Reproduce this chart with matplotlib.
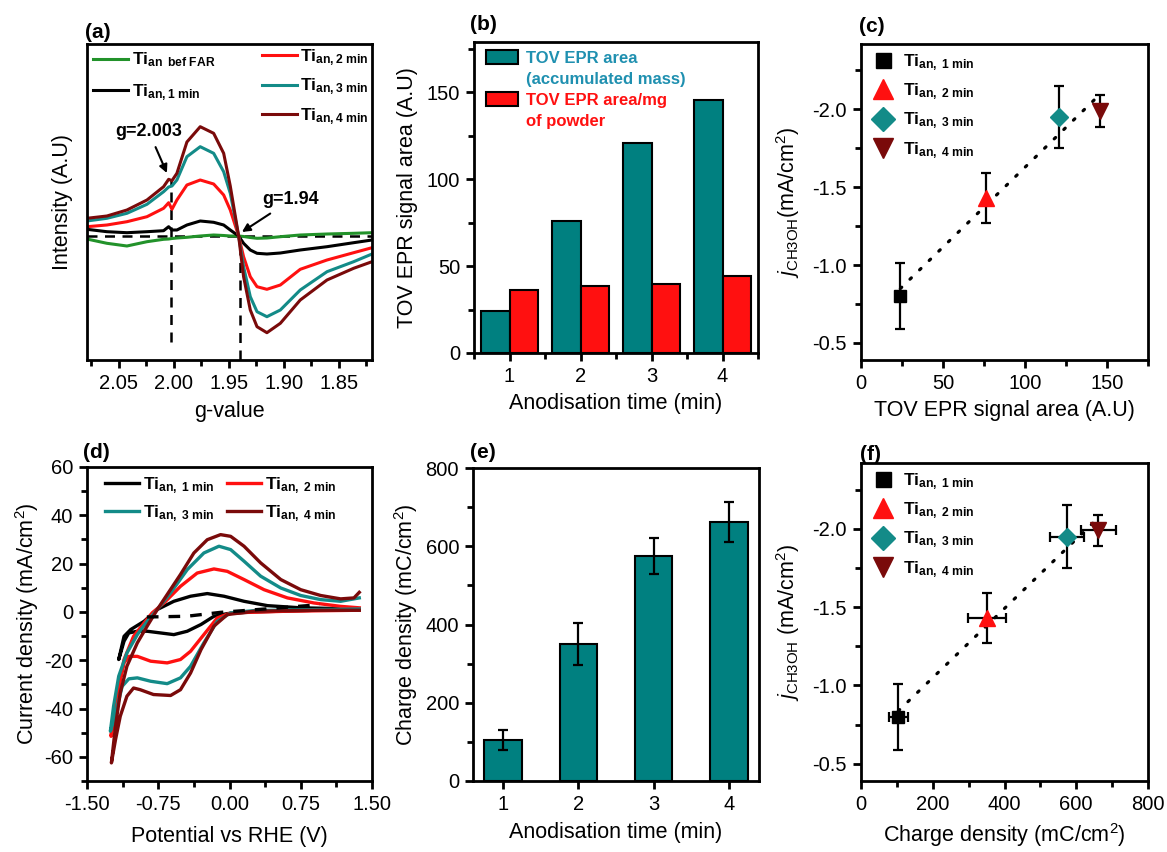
import numpy as np
import matplotlib
matplotlib.use('Agg')
import matplotlib.pyplot as plt
from matplotlib.ticker import MultipleLocator, FormatStrFormatter
from matplotlib.patches import Patch

plt.rcParams.update({
    'font.family': ['Liberation Sans', 'DejaVu Sans'],
    'mathtext.fontset': 'custom',
    'mathtext.rm': 'Liberation Sans',
    'mathtext.bf': 'Liberation Sans:bold',
    'mathtext.it': 'Liberation Sans:italic',
    'mathtext.sf': 'Liberation Sans',
    'axes.unicode_minus': False,
})

# ---------------- data ----------------
# (a) EPR spectra (intensity in arbitrary units)
g_value = [2.0791, 2.0609, 2.0427, 2.0245, 2.0094, 2.0048, 2.0018, 1.9973, 1.9882,
           1.9761, 1.9639, 1.9548, 1.9488, 1.9412, 1.9367, 1.9306, 1.9245, 1.9155,
           1.9033, 1.8852, 1.8609, 1.8367, 1.8200]
epr_bef = [-3, -7.3, -10, -5.7, -3.3, -3, -2.5, -2, -1.3, 0, 1, 0.5, 0, 0, -0.5, -1.5,
           -2.3, -2, -0.7, 1, 2, 2.7, 3.3]
epr_1min = [6.7, 4.3, 3.3, 4.3, 5.3, 9.3, 6, 6, 11, 15, 13.7, 11, 6, 0, -7.3, -14,
            -17.3, -18, -17, -14, -10.7, -6.7, -4]
epr_2min = [9.3, 11, 14.3, 19.3, 27.7, 33.3, 26.7, 36, 51, 56, 52, 41, 26, 0, -20.7,
            -40.7, -50.7, -53.3, -49, -33.3, -24, -16.7, -11.7]
epr_3min = [15, 17.7, 22.7, 31.7, 44.3, 49, 50, 56, 79.3, 89.3, 82.7, 64.3, 42.7, 0,
            -30.7, -60.7, -75.7, -80.7, -74, -54, -35.7, -25.7, -18]
epr_4min = [17.7, 20, 26, 36, 49.3, 56.7, 55.3, 62.7, 94, 109.3, 102.7, 82.7, 50, 0,
            -40.7, -74, -90.7, -96.7, -87.3, -64, -44, -32.3, -25.7]
g_marks = [2.003, 1.94]

# (b) EPR signal areas
anod_time = [1, 2, 3, 4]
tov_area = [24, 76, 121, 145.6]
tov_area_mg = [36.2, 38.3, 39.6, 44.4]

# (c)/(f) methanol current density
j_ch3oh = [-0.80, -1.43, -1.95, -1.99]
j_err = [0.21, 0.16, 0.20, 0.10]

# (d) cyclic voltammograms: cathodic (lower) then anodic (upper) branches
cv1_low_v = [1.366, 0.258, -0.023, -0.164, -0.30, -0.445, -0.586, -0.726, -0.867, -0.97, -1.06, -1.11, -1.166]
cv1_low_i = [1.2, 0, -0.7, -1.8, -5.2, -8, -9.4, -8.7, -8, -8, -8.7, -12.1, -19.7]
cv1_up_v = [-1.166, -1.11, -1.04, -0.90, -0.76, -0.586, -0.41, -0.234, -0.058, 0.153, 0.40, 0.75, 1.366]
cv1_up_i = [-19.7, -10.1, -7.3, -3.9, 1.0, 4.4, 6.5, 7.6, 6.5, 4.4, 2.6, 1.7, 1.2]

cv2_low_v = [1.366, 0.61, 0.012, -0.129, -0.27, -0.41, -0.516, -0.656, -0.83, -0.97, -1.06, -1.11, -1.166, -1.22, -1.247]
cv2_low_i = [0.7, 0.3, -0.4, -2.5, -9.4, -16.3, -19.7, -21.1, -20.4, -18.4, -18.4, -21.1, -30.8, -43.2, -51.5]
cv2_up_v = [-1.247, -1.18, -1.11, -1.01, -0.90, -0.814, -0.69, -0.516, -0.34, -0.164, -0.023, 0.153, 0.364, 0.61, 0.89, 1.17, 1.366]
cv2_up_i = [-51.5, -33.5, -19.7, -10.1, -4.6, -0.4, 3.7, 10.6, 16.1, 17.8, 16.8, 13.4, 9.2, 5.8, 3.7, 2.3, 1.7]

cv3_low_v = [1.366, 0.96, 0.258, 0.012, -0.129, -0.27, -0.41, -0.516, -0.656, -0.83, -0.97, -1.06, -1.13, -1.18, -1.226, -1.254]
cv3_low_i = [1.2, 1.0, 0.55, -0.4, -3.9, -12.8, -22.5, -27.3, -29.7, -28.7, -27.3, -27.7, -30.8, -39, -46, -49.4]
cv3_up_v = [-1.254, -1.22, -1.166, -1.08, -0.97, -0.867, -0.76, -0.62, -0.445, -0.27, -0.111, 0.012, 0.153, 0.328, 0.54, 0.75, 0.96, 1.17, 1.366]
cv3_up_i = [-49.4, -39, -26.6, -17, -9.4, -3.9, 1.0, 7.9, 17.5, 24.4, 27.2, 25.8, 21, 14.8, 9.9, 6.8, 5.1, 4.4, 5.8]

cv4_low_v = [1.366, 0.96, 0.258, -0.023, -0.164, -0.30, -0.41, -0.516, -0.62, -0.80, -0.94, -1.01, -1.08, -1.15, -1.20, -1.243]
cv4_low_i = [0.7, 0.7, 0.3, -1.1, -5.9, -15.6, -25.3, -32.2, -34.6, -34.2, -32.2, -31.5, -34.9, -43.2, -52.9, -62.5]
cv4_up_v = [-1.243, -1.20, -1.15, -1.08, -0.97, -0.867, -0.76, -0.656, -0.516, -0.375, -0.234, -0.094, 0.012, 0.153, 0.328, 0.54, 0.75, 0.96, 1.17, 1.31, 1.366]
cv4_up_i = [-62.5, -47.3, -33.5, -22.5, -12.8, -5.9, 1.0, 7.2, 15.5, 24.4, 29.9, 32, 31.3, 27.2, 20.3, 13.4, 9.2, 6.8, 5.4, 5.8, 8.1]

cv_blank_v = [-0.87, -0.45, -0.1, 0.3, 0.95]
cv_blank_i = [-2.1, -1.8, -0.2, 1.0, 3.0]

# (e) charge density
charge = [104, 351, 575, 662]
charge_err = [26, 54, 47, 50]

labels_a = [r"Ti$_{\mathbf{an}}$ ${}_{\mathbf{bef\ FAR}}$", r"Ti$_{\mathbf{an,1\ min}}$",
            r"Ti$_{\mathbf{an,2\ min}}$", r"Ti$_{\mathbf{an,3\ min}}$", r"Ti$_{\mathbf{an,4\ min}}$"]
labels_s = [r"Ti$_{\mathbf{an,\ 1\ min}}$", r"Ti$_{\mathbf{an,\ 2\ min}}$",
            r"Ti$_{\mathbf{an,\ 3\ min}}$", r"Ti$_{\mathbf{an,\ 4\ min}}$"]
labels_b = ['TOV EPR area', '(accumulated mass)', 'TOV EPR area/mg', 'of powder']

# ---------------- style ----------------
C_GREEN = '#22922a'
C_RED = '#ff1010'
C_TEAL = '#138b88'
C_TEALBAR = '#008080'
C_DRED = '#7a0a0a'
C_LEGTEAL = '#1f90b0'

W, H = 1167, 852
fig = plt.figure(figsize=(W / 100, H / 100), dpi=100)


def ax_px(l, t, r, b):
    return fig.add_axes([l / W, 1 - b / H, (r - l) / W, (b - t) / H])


TICK_FS = 14.5
LAB_FS = 15.5


def style(ax):
    for s in ax.spines.values():
        s.set_linewidth(2)
    ax.tick_params(which='both', direction='out', top=False, right=False, width=2,
                   labelsize=TICK_FS)
    ax.tick_params(which='major', length=6, pad=4)
    ax.tick_params(which='minor', length=4)


leg_prop = {'weight': 'bold', 'size': 12.5}

# ---------------- (a) ----------------
ax = ax_px(87, 44, 372, 360)
style(ax)
ax.axhline(0, color='k', lw=1.8, ls=(0, (4, 3)), zorder=1)
ax.axvline(g_marks[0], ymin=0.057, ymax=0.57, color='k', lw=1.8, ls=(0, (4, 3)), zorder=1)
ax.axvline(g_marks[1], ymin=0.0, ymax=0.392, color='k', lw=1.8, ls=(0, (4, 3)), zorder=1)
la = []
for yv, c in zip([epr_bef, epr_1min, epr_2min, epr_3min, epr_4min],
                 [C_GREEN, 'k', C_RED, C_TEAL, C_DRED]):
    l, = ax.plot(g_value, yv, color=c, lw=2.2, zorder=2, solid_joinstyle='round')
    la.append(l)
ax.set_xlim(2.079, 1.82)
ax.set_ylim(-124, 192)
ax.set_yticks([])
ax.xaxis.set_major_locator(MultipleLocator(0.05))
ax.xaxis.set_minor_locator(MultipleLocator(0.025))
ax.xaxis.set_major_formatter(FormatStrFormatter('%.2f'))
ax.set_xlabel('g-value', fontsize=LAB_FS, labelpad=6)
ax.set_ylabel('Intensity (A.U)', fontsize=LAB_FS, labelpad=10)
ax.annotate('g=2.003', xy=(2.0064, 63), xytext=(2.0227, 104), ha='center', va='center',
            fontsize=13, fontweight='bold',
            arrowprops=dict(arrowstyle='-|>', color='k', lw=1.5, shrinkA=3, shrinkB=0,
                            mutation_scale=12))
ax.annotate('g=1.94', xy=(1.9382, 4), xytext=(1.8936, 36), ha='center', va='center',
            fontsize=13, fontweight='bold',
            arrowprops=dict(arrowstyle='-|>', color='k', lw=1.5, shrinkA=3, shrinkB=0,
                            mutation_scale=12))
leg1 = ax.legend(la[:2], labels_a[:2], loc='upper left', bbox_to_anchor=(0.01, 0.99),
                 frameon=False, prop=leg_prop, handlelength=2.0, handletextpad=0.2,
                 labelspacing=0.75, borderaxespad=0, borderpad=0.2)
ax.add_artist(leg1)
ax.legend(la[2:], labels_a[2:], loc='upper right', bbox_to_anchor=(1.0, 1.0),
          frameon=False, prop=leg_prop, handlelength=2.0, handletextpad=0.2,
          labelspacing=0.5, borderaxespad=0, borderpad=0.2)

# ---------------- (b) ----------------
ax = ax_px(474, 42, 758, 353)
style(ax)
xt = np.array(anod_time, dtype=float)
ax.bar(xt - 0.2, tov_area, 0.4, color=C_TEALBAR, edgecolor='k', lw=1.5)
ax.bar(xt + 0.2, tov_area_mg, 0.4, color=C_RED, edgecolor='k', lw=1.5)
ax.set_xlim(0.5, 4.5)
ax.set_ylim(0, 179)
ax.set_xticks(anod_time)
ax.xaxis.set_minor_locator(MultipleLocator(0.5))
ax.yaxis.set_major_locator(MultipleLocator(50))
ax.yaxis.set_minor_locator(MultipleLocator(25))
ax.set_xlabel('Anodisation time (min)', fontsize=LAB_FS, labelpad=5)
ax.set_ylabel('TOV EPR signal area (A.U)', fontsize=LAB_FS, labelpad=6)
blank = Patch(facecolor='none', edgecolor='none')
hb = [Patch(facecolor=C_TEALBAR, edgecolor='k', lw=1.5), blank,
      Patch(facecolor=C_RED, edgecolor='k', lw=1.5), blank]
lb = ax.legend(hb, labels_b, loc='upper left', bbox_to_anchor=(0.03, 0.985), frameon=False,
               prop={'weight': 'bold', 'size': 12}, handlelength=1.95, handleheight=0.95,
               handletextpad=0.45, labelspacing=0.3, borderaxespad=0, borderpad=0.2)
for t, c in zip(lb.get_texts(), [C_LEGTEAL, C_LEGTEAL, C_RED, C_RED]):
    t.set_color(c)

# ---------------- (c) ----------------
markers = [('s', 'k', 8), ('^', C_RED, 11), ('D', C_TEAL, 9), ('v', C_DRED, 11)]


def scatter_panel(ax, xv, xerr):
    coef = np.polyfit(xv, j_ch3oh, 1)
    xx = np.array([xv[0], xv[-1]])
    ax.plot(xx, np.polyval(coef, xx), color='k', lw=2.3, ls=(0, (0.6, 3.6)),
            dash_capstyle='round', zorder=1)
    ax.errorbar(xv, j_ch3oh, yerr=j_err, xerr=xerr, fmt='none', ecolor='k',
                elinewidth=1.6, capsize=3.5, capthick=1.6, zorder=2)
    hs = []
    for i, (m, c, ms) in enumerate(markers):
        h, = ax.plot([xv[i]], [j_ch3oh[i]], marker=m, color=c, ms=ms, ls='none',
                     mec=c, zorder=3)
        hs.append(h)
    ax.set_ylim(-0.39, -2.42)
    ax.yaxis.set_major_locator(MultipleLocator(0.5))
    ax.yaxis.set_minor_locator(MultipleLocator(0.25))
    ax.yaxis.set_major_formatter(FormatStrFormatter('%.1f'))
    ax.legend(hs, labels_s, loc='upper left', bbox_to_anchor=(0.03, 0.985),
              frameon=False, prop=leg_prop, markerscale=1.35, handlelength=1.2,
              handletextpad=0.5, labelspacing=0.5, borderaxespad=0, borderpad=0.2)


ax = ax_px(861, 44, 1148, 360)
style(ax)
scatter_panel(ax, tov_area, None)
ax.set_xlim(0, 175)
ax.xaxis.set_major_locator(MultipleLocator(50))
ax.xaxis.set_minor_locator(MultipleLocator(25))
ax.set_xlabel('TOV EPR signal area (A.U)', fontsize=LAB_FS, labelpad=5)
ax.set_ylabel(r'$j_{\mathrm{CH3OH}}$(mA/cm$^{2}$)', fontsize=LAB_FS, labelpad=8)

# ---------------- (d) ----------------
ax = ax_px(87, 467, 372, 781)
style(ax)
ld = []
for lv, li, uv, ui, c in [(cv1_low_v, cv1_low_i, cv1_up_v, cv1_up_i, 'k'),
                          (cv2_low_v, cv2_low_i, cv2_up_v, cv2_up_i, C_RED),
                          (cv3_low_v, cv3_low_i, cv3_up_v, cv3_up_i, C_TEAL),
                          (cv4_low_v, cv4_low_i, cv4_up_v, cv4_up_i, C_DRED)]:
    l, = ax.plot(lv + uv, li + ui, color=c, lw=2.4, solid_joinstyle='round')
    ld.append(l)
ax.plot(cv_blank_v, cv_blank_i, color='k', lw=2.4, ls=(0, (3.5, 3)))
ax.set_xlim(-1.5, 1.5)
ax.set_ylim(-70, 60)
ax.xaxis.set_major_locator(MultipleLocator(0.75))
ax.xaxis.set_minor_locator(MultipleLocator(0.375))
ax.xaxis.set_major_formatter(FormatStrFormatter('%.2f'))
ax.yaxis.set_major_locator(MultipleLocator(20))
ax.yaxis.set_minor_locator(MultipleLocator(10))
ax.set_xlabel('Potential vs RHE (V)', fontsize=LAB_FS, labelpad=9)
ax.set_ylabel(r'Current density (mA/cm$^{2}$)', fontsize=LAB_FS, labelpad=2)
ax.legend([ld[0], ld[2], ld[1], ld[3]], [labels_s[0], labels_s[2], labels_s[1], labels_s[3]],
          ncol=2, loc='upper left', bbox_to_anchor=(0.05, 0.985), frameon=False,
          prop=leg_prop, handlelength=2.0, handletextpad=0.2, columnspacing=0.7,
          labelspacing=0.45, borderaxespad=0, borderpad=0.2)

# ---------------- (e) ----------------
ax = ax_px(473, 468, 759, 781)
style(ax)
ax.bar(anod_time, charge, 0.5, yerr=charge_err, color=C_TEALBAR, edgecolor='k', lw=1.5,
       capsize=3.5, error_kw=dict(elinewidth=1.6, capthick=1.6, ecolor='k'))
ax.set_xlim(0.6, 4.4)
ax.set_ylim(0, 800)
ax.set_xticks(anod_time)
ax.yaxis.set_major_locator(MultipleLocator(200))
ax.yaxis.set_minor_locator(MultipleLocator(100))
ax.set_xlabel('Anodisation time (min)', fontsize=LAB_FS, labelpad=6)
ax.set_ylabel(r'Charge density (mC/cm$^{2}$)', fontsize=LAB_FS, labelpad=4)

# ---------------- (f) ----------------
ax = ax_px(861, 463, 1148, 781)
style(ax)
scatter_panel(ax, charge, charge_err)
ax.set_xlim(0, 800)
ax.xaxis.set_major_locator(MultipleLocator(200))
ax.xaxis.set_minor_locator(MultipleLocator(100))
ax.set_xlabel(r'Charge density (mC/cm$^{2}$)', fontsize=LAB_FS, labelpad=5)
ax.set_ylabel(r'$j_{\mathrm{CH3OH}}$ (mA/cm$^{2}$)', fontsize=LAB_FS, labelpad=8)

# ---------------- panel labels ----------------
for txt, x, y in [('(a)', 85, 33), ('(b)', 470, 25), ('(c)', 859, 27),
                  ('(d)', 83, 453), ('(e)', 470, 452), ('(f)', 860, 454)]:
    fig.text(x / W, 1 - y / H, txt, fontsize=15, fontweight='bold', ha='left', va='center')

fig.savefig('out.png', dpi=100)
